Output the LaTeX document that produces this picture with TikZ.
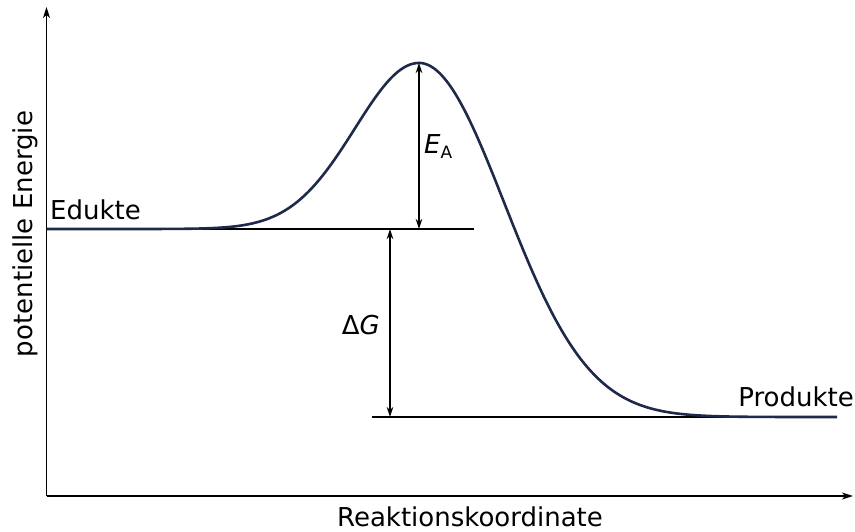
\documentclass[tikz,border=0pt]{standalone}
\usepackage{fontspec}
\setmainfont{DejaVu Sans}
\usetikzlibrary{arrows.meta}
\definecolor{curvecol}{HTML}{1F2A4A}
\begin{document}
\begin{tikzpicture}[x=1pt,y=-1pt,
  lbl/.style={inner sep=0pt,font=\fontsize{26}{30}\selectfont},
  axis/.style={line width=1.3pt,-{Stealth[length=11pt,width=7pt,inset=3pt]}},
  level/.style={line width=1.3pt},
  dim/.style={line width=1.3pt,{Stealth[length=10pt,width=6.5pt,inset=3pt]}-{Stealth[length=10pt,width=6.5pt,inset=3pt]}},
  curve/.style={line width=2.6pt,color=curvecol}]
\useasboundingbox (0,0) rectangle (855,532);
% axes
\coordinate (O) at (46.5,496);
\coordinate (Ytip) at (46.5,7);
\coordinate (Xtip) at (853,496);
\draw[axis] (O) -- (Ytip);
\draw[axis] (O) -- (Xtip);
% levels
\coordinate (EdL) at (46.5,229);
\coordinate (EdR) at (474,229);
\coordinate (PrL) at (372,417);
\coordinate (PrR) at (837,417);
\draw[level] (EdL) -- (EdR);
\draw[level] (PrL) -- (PrR);
% curve
\draw[curve] plot[domain=46.5:419,samples=160] (\x,{229-166*exp(-((\x-419)/64)*((\x-419)/64)/2)})
  -- plot[domain=419:837,samples=180] (\x,{417-354*exp(-((\x-419)/85)*((\x-419)/85)/2)});
% dimension arrows
\coordinate (Peak) at (419,63);
\coordinate (EaB) at (419,229);
\coordinate (DgT) at (390,229);
\coordinate (DgB) at (390,417);
\draw[dim] (Peak) -- (EaB);
\draw[dim] (DgT) -- (DgB);
% labels
\node[lbl,anchor=base west] (edukte) at (50,219) {Edukte};
\node[lbl,anchor=base east] (produkte) at (854,406) {Produkte};
\node[lbl,anchor=base west] (ea) at (424,154) {\itshape E\upshape\raisebox{-5pt}{\fontsize{17}{20}\selectfont A}};
\node[lbl,anchor=base east] (dg) at (380,334) {Δ\itshape G};
\node[lbl,anchor=base,rotate=90] (ylab) at (32,234) {potentielle Energie};
\node[lbl,anchor=base] (xlab) at (470,526) {Reaktionskoordinate};
\end{tikzpicture}
\end{document}
